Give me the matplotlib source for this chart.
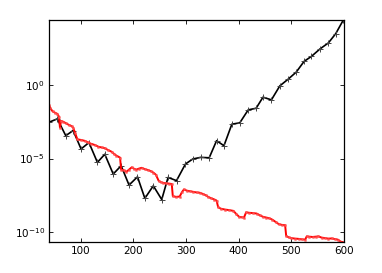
import numpy as np
import matplotlib
matplotlib.use("Agg")
import matplotlib.pyplot as plt
from matplotlib.ticker import FixedLocator, LogFormatterMathtext, NullLocator

# black curve (+ markers), x and log10(y)
black_x = [40, 56, 72, 86, 101, 116, 132, 146, 162, 177, 192, 208, 222, 238,
           254, 266, 282, 299, 313, 328, 344, 358, 372, 387, 402, 418, 433,
           446, 462, 478, 494, 509, 524, 538, 554, 570, 584, 598]
black_log = [-2.54, -2.31, -3.45, -3.1, -4.35, -3.92, -5.26, -4.71, -6.05,
             -5.49, -6.8, -6.24, -7.7, -6.85, -7.78, -6.28, -6.5, -5.37,
             -5.03, -4.92, -4.95, -3.79, -4.13, -2.67, -2.58, -1.7, -1.59,
             -0.84, -1.02, -0.07, 0.39, 0.86, 1.59, 1.93, 2.43, 2.84, 3.47, 4.37]

# red curve (stair-like), x and log10(y)
red_x = [40, 43, 47, 52, 56, 59, 61, 63, 67, 72, 78, 83, 86, 90, 94, 101, 108,
         114, 120, 127, 134, 140, 146, 152, 159, 164, 168, 175, 177, 182, 187,
         192, 197, 202, 206, 211, 216, 222, 228, 233, 238, 243, 248, 252, 257,
         263, 268, 273, 275, 281, 288, 292, 296, 302, 308, 314, 320, 326, 332,
         338, 342, 348, 354, 358, 361, 366, 374, 382, 390, 395, 401, 406, 410,
         414, 420, 427, 434, 440, 446, 452, 458, 464, 470, 476, 482, 488, 490,
         495, 500, 507, 514, 520, 526, 529, 534, 540, 546, 551, 557, 564, 570,
         576, 582, 588, 593, 600]
red_log = [-1.36, -1.6, -1.8, -1.9, -1.97, -2.15, -2.9, -2.45, -2.5, -2.6,
           -2.72, -2.8, -2.9, -3.3, -3.7, -3.74, -3.8, -3.9, -4.0, -4.08, -4.2,
           -4.25, -4.3, -4.42, -4.54, -4.7, -4.8, -4.94, -5.75, -5.8, -5.9,
           -5.75, -5.6, -5.7, -5.75, -5.68, -5.63, -5.72, -5.78, -5.85, -5.95,
           -6.1, -6.5, -6.6, -6.65, -6.69, -6.7, -6.73, -7.55, -7.6, -7.58,
           -7.3, -7.1, -7.18, -7.22, -7.26, -7.3, -7.32, -7.4, -7.5, -7.6,
           -7.7, -7.78, -7.85, -8.3, -8.4, -8.46, -8.5, -8.55, -8.75, -8.96,
           -8.98, -9.0, -8.65, -8.68, -8.7, -8.73, -8.85, -8.95, -9.0, -9.05,
           -9.15, -9.3, -9.45, -9.5, -9.52, -10.25, -10.35, -10.4, -10.43,
           -10.45, -10.48, -10.5, -10.28, -10.3, -10.32, -10.3, -10.28, -10.36,
           -10.4, -10.43, -10.42, -10.46, -10.5, -10.63, -10.7]

xticks = [100, 200, 300, 400, 500, 600]
yticks = [1e-10, 1e-5, 1e0]

fig = plt.figure(figsize=(3.82, 2.73), dpi=100)
ax = fig.add_axes([0.128, 0.1136, 0.773, 0.8134])

ax.plot(black_x, 10.0 ** np.array(black_log), color="black", lw=1.2,
        marker="+", ms=5, mew=0.7, mec="#444444")
ax.plot(red_x, 10.0 ** np.array(red_log), color="red", lw=1.4,
        marker="s", ms=1.3, mew=0.3, mfc="#ff5050", mec="#ff5050")

ax.set_yscale("log")
ax.set_xlim(40, 600)
ax.set_ylim(10 ** -10.66, 10 ** 4.4)
ax.set_xticks(xticks)
ax.yaxis.set_major_locator(FixedLocator(yticks))
ax.yaxis.set_minor_locator(NullLocator())
ax.yaxis.set_major_formatter(LogFormatterMathtext())
ax.tick_params(direction="in", top=True, right=True, labelsize=7.5,
               length=3, width=0.6, pad=3)
for s in ax.spines.values():
    s.set_linewidth(0.9)

fig.savefig("out.png", dpi=100)
